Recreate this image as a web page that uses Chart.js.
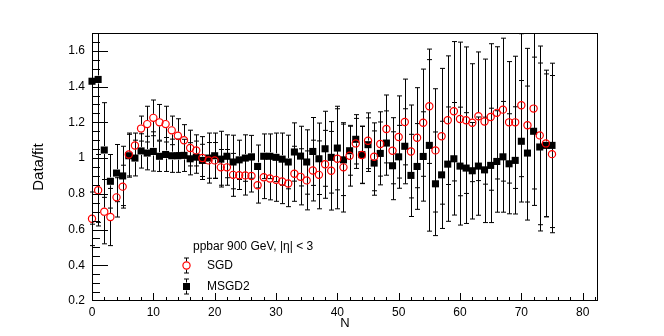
<!DOCTYPE html>
<html>
<head>
<meta charset="utf-8">
<script src="https://cdn.jsdelivr.net/npm/chart.js@4/dist/chart.umd.min.js"></script>
<style>
  html, body { margin: 0; padding: 0; background: #fff; }
  canvas { display: block; }
</style>
</head>
<body>
<canvas id="chart" width="664" height="336"></canvas>
<script>
// ---------------------------------------------------------------------------
// Data
// ---------------------------------------------------------------------------
const nValues = [
  0, 1, 2, 3, 4, 5, 6, 7, 8, 9, 10, 11, 12, 13, 14, 15, 16, 17, 18, 19,
  20, 21, 22, 23, 24, 25, 26, 27, 28, 29, 30, 31, 32, 33, 34, 35, 36, 37, 38, 39,
  40, 41, 42, 43, 44, 45, 46, 47, 48, 49, 50, 51, 52, 53, 54, 55, 56, 57, 58, 59,
  60, 61, 62, 63, 64, 65, 66, 67, 68, 69, 70, 71, 72, 73, 74, 75
];

const sgdValues = [
  0.66, 0.82, 0.70, 0.67, 0.78, 0.84, 1.02, 1.07, 1.165, 1.19,
  1.225, 1.20, 1.19, 1.155, 1.125, 1.10, 1.056, 1.043, 1.00, 0.987,
  0.987, 0.948, 0.948, 0.906, 0.904, 0.903, 0.90, 0.848, 0.893, 0.886,
  0.878, 0.869, 0.858, 0.912, 0.895, 0.875, 0.93, 0.906, 0.965, 0.929,
  0.996, 0.948, 1.013, 1.082, 1.017, 1.097, 1.007, 1.079, 1.163, 1.041,
  1.118, 1.202, 1.037, 1.114, 1.198, 1.29, 1.043, 1.122, 1.212, 1.262,
  1.219, 1.212, 1.198, 1.234, 1.204, 1.23, 1.253, 1.271, 1.20, 1.20,
  1.296, 1.184, 1.277, 1.127, 1.082, 1.022
];
const sgdErrors = [
  0.15, 0.20, 0.18, 0.16, 0.11, 0.12, 0.12, 0.07, 0.07, 0.10,
  0.10, 0.10, 0.10, 0.08, 0.095, 0.087, 0.10, 0.087, 0.12, 0.10,
  0.10, 0.10, 0.10, 0.12, 0.08, 0.11, 0.09, 0.10, 0.12, 0.12,
  0.12, 0.124, 0.13, 0.154, 0.157, 0.165, 0.17, 0.19, 0.19, 0.22,
  0.28, 0.25, 0.17, 0.14, 0.16, 0.156, 0.19, 0.18, 0.19, 0.185,
  0.23, 0.24, 0.26, 0.28, 0.30, 0.32, 0.345, 0.38, 0.36, 0.39,
  0.43, 0.41, 0.33, 0.36, 0.35, 0.41, 0.37, 0.40, 0.34, 0.37,
  0.40, 0.43, 0.45, 0.50, 0.41, 0.44
];

const msgdValues = [
  1.43, 1.44, 1.045, 0.87, 0.916, 0.90, 1.013, 1.0, 1.04, 1.028,
  1.037, 1.01, 1.02, 1.013, 1.013, 1.015, 0.996, 1.005, 0.987, 1.0,
  1.013, 0.994, 1.01, 0.978, 0.99, 1.0, 1.007, 0.953, 1.01, 1.01,
  1.004, 0.994, 0.978, 1.034, 1.011, 0.978, 1.037, 0.996, 1.052, 1.004,
  1.056, 0.99, 1.041, 1.105, 1.019, 1.075, 0.972, 1.026, 1.084, 0.957,
  1.007, 1.066, 0.903, 0.953, 1.009, 1.071, 0.856, 0.906, 0.966, 0.996,
  0.955, 0.944, 0.929, 0.955, 0.934, 0.959, 0.981, 1.007, 0.968, 0.987,
  1.094, 1.028, 1.15, 1.062, 1.071, 1.071
];
const msgdErrors = [
  0.80, 0.80, 0.265, 0.15, 0.16, 0.166, 0.12, 0.10, 0.096, 0.094,
  0.11, 0.085, 0.095, 0.093, 0.093, 0.09, 0.09, 0.09, 0.09, 0.14,
  0.127, 0.156, 0.12, 0.15, 0.11, 0.13, 0.12, 0.12, 0.125, 0.125,
  0.136, 0.146, 0.15, 0.163, 0.167, 0.18, 0.19, 0.20, 0.21, 0.20,
  0.234, 0.20, 0.137, 0.138, 0.16, 0.15, 0.18, 0.176, 0.18, 0.19,
  0.176, 0.21, 0.23, 0.24, 0.25, 0.48, 0.29, 0.30, 0.32, 0.315,
  0.33, 0.31, 0.27, 0.275, 0.295, 0.32, 0.284, 0.31, 0.28, 0.30,
  0.34, 0.375, 0.415, 0.47, 0.40, 0.46
];

const xTickValues = [0, 10, 20, 30, 40, 50, 60, 70, 80];
const yTickValues = [0.2, 0.4, 0.6, 0.8, 1, 1.2, 1.4, 1.6];

const legendHeader = 'ppbar 900 GeV, |\u03b7| < 3';
const FONT = '"Liberation Sans", Arial, Helvetica, sans-serif';

// ---------------------------------------------------------------------------
// Plugins: error bars, ROOT-style frame + inner ticks, legend
// ---------------------------------------------------------------------------
const seriesList = [
  { values: msgdValues, errors: msgdErrors, gap: 4 },
  { values: sgdValues, errors: sgdErrors, gap: 4 },
];

function drawBar(ctx, px, yTop, yMid, yBot, gap) {
  const cap = 2.5;
  ctx.beginPath();
  if (yMid - gap > yTop) { ctx.moveTo(px, yTop); ctx.lineTo(px, yMid - gap); }
  if (yMid + gap < yBot) { ctx.moveTo(px, yMid + gap); ctx.lineTo(px, yBot); }
  ctx.moveTo(px - cap, yTop); ctx.lineTo(px + cap, yTop);
  ctx.moveTo(px - cap, yBot); ctx.lineTo(px + cap, yBot);
  ctx.stroke();
}

const errorBars = {
  id: 'errorBars',
  beforeDatasetsDraw(chart) {
    const { ctx, chartArea, scales: { x, y } } = chart;
    ctx.save();
    ctx.beginPath();
    ctx.rect(chartArea.left - 6, chartArea.top, chartArea.width + 12, chartArea.bottom - chartArea.top);
    ctx.clip();
    ctx.strokeStyle = '#000';
    ctx.lineWidth = 1;
    seriesList.forEach(s => {
      nValues.forEach((n, i) => {
        const px = Math.round(x.getPixelForValue(n)) + 0.5;
        drawBar(ctx, px,
          y.getPixelForValue(s.values[i] + s.errors[i]),
          y.getPixelForValue(s.values[i]),
          y.getPixelForValue(s.values[i] - s.errors[i]),
          s.gap);
      });
    });
    ctx.restore();
  }
};

const frameTicks = {
  id: 'frameTicks',
  afterDraw(chart) {
    const { ctx, chartArea: a, scales: { x, y } } = chart;
    ctx.save();
    ctx.strokeStyle = '#000';
    ctx.lineWidth = 1;
    ctx.strokeRect(a.left + 0.5, a.top + 0.5, a.right - a.left - 1, a.bottom - a.top - 1);

    ctx.beginPath();
    // y ticks: major each 0.2, minor each 0.05
    for (let k = 4; k <= 34; k++) {
      const v = k * 0.05;
      const py = Math.round(y.getPixelForValue(v)) + 0.5;
      if (py < a.top || py > a.bottom) continue;
      const len = (k % 4 === 0) ? 16 : 8;
      ctx.moveTo(a.left, py);
      ctx.lineTo(a.left + len, py);
    }
    // x ticks: major each 10, minor each 2
    for (let v = 0; v <= 82; v += 2) {
      const px = Math.round(x.getPixelForValue(v)) + 0.5;
      const len = (v % 10 === 0) ? 8 : 4;
      ctx.moveTo(px, a.bottom);
      ctx.lineTo(px, a.bottom - len);
    }
    ctx.stroke();

    // legend
    ctx.fillStyle = '#000';
    ctx.font = '12px ' + FONT;
    ctx.textBaseline = 'middle';
    ctx.textAlign = 'left';
    ctx.fillText(legendHeader, 193, 246.5);
    ctx.fillText('SGD', 207, 265.5);
    ctx.fillText('MSGD2', 207, 286.5);

    drawBar(ctx, 186.5, 258, 265.5, 273, 4);
    ctx.beginPath();
    ctx.strokeStyle = '#ff0000';
    ctx.lineWidth = 1.2;
    ctx.arc(186.5, 265.5, 3.6, 0, Math.PI * 2);
    ctx.stroke();

    ctx.strokeStyle = '#000';
    ctx.lineWidth = 1;
    drawBar(ctx, 186.5, 279, 286.5, 294, 4);
    ctx.fillRect(183, 283, 7, 7);
    ctx.restore();
  }
};

// ---------------------------------------------------------------------------
// Chart
// ---------------------------------------------------------------------------
new Chart(document.getElementById('chart'), {
  type: 'scatter',
  data: {
    datasets: [
      {
        label: 'SGD',
        data: nValues.map((n, i) => ({ x: n, y: sgdValues[i] })),
        pointStyle: 'circle',
        pointRadius: 3.6,
        borderWidth: 1.2,
        borderColor: '#ff0000',
        backgroundColor: 'rgba(255,255,255,0)',
        clip: false,
      },
      {
        label: 'MSGD2',
        data: nValues.map((n, i) => ({ x: n, y: msgdValues[i] })),
        pointStyle: 'rect',
        pointRadius: 5,
        borderWidth: 0,
        borderColor: '#000',
        backgroundColor: '#000',
        clip: false,
      },
    ],
  },
  options: {
    responsive: false,
    animation: false,
    devicePixelRatio: 1,
    events: [],
    layout: { padding: { left: 0, top: 33, right: 66, bottom: 0 } },
    plugins: { legend: { display: false }, tooltip: { enabled: false } },
    scales: {
      x: {
        type: 'linear',
        min: 0,
        max: 82.5,
        grid: { display: false, drawTicks: false },
        border: { display: false },
        afterFit(s) { s.height = 35; },
        afterBuildTicks(s) { s.ticks = xTickValues.map(v => ({ value: v })); },
        ticks: {
          padding: 4, color: '#000', autoSkip: false, maxRotation: 0,
          font: { family: FONT, size: 12 },
          callback: v => String(v),
        },
        title: {
          display: true, text: 'N', color: '#000',
          font: { family: FONT, size: 13 },
          padding: { top: 0, bottom: 5 },
        },
      },
      y: {
        type: 'linear',
        min: 0.2,
        max: 1.7,
        grid: { display: false, drawTicks: false },
        border: { display: false },
        afterFit(s) { s.width = 92; },
        afterBuildTicks(s) { s.ticks = yTickValues.map(v => ({ value: v })); },
        ticks: {
          padding: 7, color: '#000', autoSkip: false,
          font: { family: FONT, size: 12 },
          callback: v => String(v),
        },
        title: {
          display: true, text: 'Data/fit', color: '#000',
          font: { family: FONT, size: 15 },
          padding: { top: 30, bottom: 0 },
        },
      },
    },
  },
  plugins: [errorBars, frameTicks],
});
</script>
</body>
</html>
